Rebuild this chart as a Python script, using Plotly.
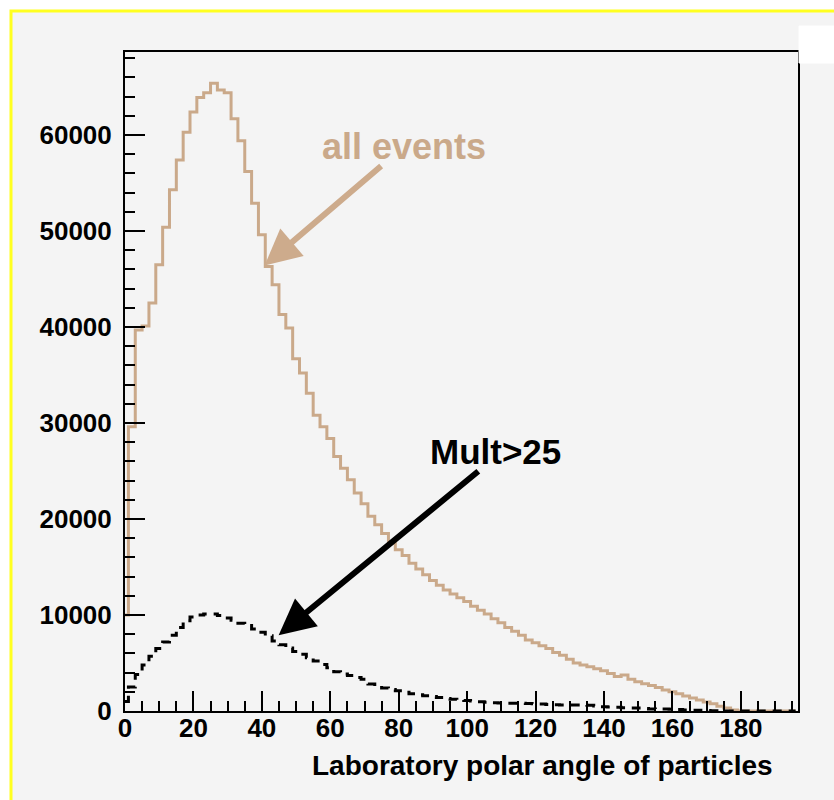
import plotly.graph_objects as go

# Bin centres (2-degree bins) of the laboratory polar angle
angle_bins = list(range(0, 198, 2))

# Histogram "all events"
all_events = [
    10000, 29600, 39700, 40100, 42500, 46500, 50400, 54300, 57400, 60300,
    62400, 63900, 64400, 65400, 64700, 64400, 61700, 59400, 56200, 52900,
    49600, 46300, 44400, 41300, 39900, 36700, 35200, 33100, 30800, 29600,
    28400, 26500, 25300, 24100, 22700, 21600, 20300, 19400, 18500, 17500,
    16800, 16200, 15400, 14800, 14200, 13600, 13100, 12600, 12200, 11800,
    11400, 10900, 10500, 10100, 9600, 9200, 8700, 8300, 7900, 7400,
    7100, 6800, 6500, 6100, 5800, 5400, 5000, 4800, 4600, 4400,
    4200, 3900, 3600, 3750, 3300, 3050, 2850, 2650, 2450, 2200,
    2000, 1800, 1550, 1350, 1150, 950, 750, 500, 300, 100,
    0, 0, 0, 0, 0, 0, 0, 0, 0,
]

# Histogram "Mult>25"
mult_gt25 = [
    1000, 2500, 3800, 4800, 5700, 6500, 7200, 7900, 8700, 9400,
    9800, 10000, 10100, 10100, 9950, 9700, 9450, 9150, 8900, 8550,
    8200, 7850, 7300, 6900, 6550, 6200, 5900, 5550, 5200, 4850,
    4500, 4100, 3850, 3700, 3500, 3300, 2800, 2600, 2400, 2250,
    2100, 1950, 1800, 1700, 1600, 1500, 1400, 1300, 1220, 1150,
    1100, 1040, 970, 920, 860, 830, 800, 800, 800, 790,
    760, 730, 680, 640, 625, 625, 625, 625, 610, 530,
    450, 420, 380, 350, 320, 300, 250, 210, 200, 200,
    190, 150, 110, 90, 70, 50, 30, 10,
    0, 0, 0, 0, 0, 0, 0, 0, 0, 0, 0,
]

x_tick_vals = [0, 20, 40, 60, 80, 100, 120, 140, 160, 180]
y_tick_vals = [0, 10000, 20000, 30000, 40000, 50000, 60000]

TAN = "#caa98a"
FONT = "Liberation Sans, Arial, sans-serif"

fig = go.Figure()
fig.add_trace(go.Scatter(
    x=angle_bins, y=all_events, mode="lines", line_shape="hvh",
    line=dict(color=TAN, width=3), name="all events", showlegend=False,
))
fig.add_trace(go.Scatter(
    x=angle_bins, y=mult_gt25, mode="lines", line_shape="hvh",
    line=dict(color="black", width=3, dash="9px,7px"), name="Mult>25", showlegend=False,
))

# Canvas background with yellow border
fig.add_shape(type="rect", xref="paper", yref="paper",
              x0=-0.1694, x1=1.2, y0=-0.3, y1=1.0622,
              fillcolor="#f4f4f4", line=dict(color="#ffff20", width=3), layer="below")
# Small stats box at the top right
fig.add_shape(type="rect", xref="paper", yref="paper",
              x0=1.0015, x1=1.1, y0=0.9833, y1=1.0394,
              fillcolor="#ffffff", line=dict(color="#ffffff", width=1), layer="above")

fig.update_layout(
    width=834, height=800,
    margin=dict(l=125, r=36, t=52, b=89),
    paper_bgcolor="white", plot_bgcolor="#f4f4f4",
    font=dict(family=FONT, color="black"),
    showlegend=False,
    xaxis=dict(
        range=[0, 196.7], tickvals=x_tick_vals, ticks="inside", ticklen=20,
        tickwidth=1.5, tickcolor="black",
        minor=dict(dtick=5, ticks="inside", ticklen=10, tickwidth=1.5, tickcolor="black"),
        showline=True, linecolor="black", linewidth=2, mirror=True,
        showgrid=False, zeroline=False,
        tickfont=dict(size=26, family=FONT, color="black", weight="bold"),
        ticklabelstandoff=-7,
    ),
    yaxis=dict(
        range=[0, 68650], tickvals=y_tick_vals, tickformat="d", ticks="inside", ticklen=20,
        tickwidth=1.5, tickcolor="black",
        minor=dict(dtick=2000, ticks="inside", ticklen=10, tickwidth=1.5, tickcolor="black"),
        showline=True, linecolor="black", linewidth=2, mirror=True,
        showgrid=False, zeroline=False,
        tickfont=dict(size=26, family=FONT, color="black", weight="bold"),
        ticklabelstandoff=6,
    ),
)

annotations = [
    # x-axis title, right aligned as in ROOT
    dict(text="Laboratory polar angle of particles", xref="paper", yref="paper",
         x=0.9655, y=-0.083, xanchor="right", yanchor="middle", showarrow=False,
         font=dict(size=28, family=FONT, color="black", weight="bold")),
    dict(text="all events", xref="x", yref="y", x=81.5, y=58850,
         xanchor="center", yanchor="middle", showarrow=False,
         font=dict(size=36, family=FONT, color=TAN, weight="bold")),
    dict(text="Mult>25", xref="x", yref="y", x=108.2, y=27080,
         xanchor="center", yanchor="middle", showarrow=False,
         font=dict(size=35, family=FONT, color="black", weight="bold")),
    # arrows
    dict(text="", xref="x", yref="y", x=40.8, y=46400, axref="x", ayref="y",
         ax=75.3, ay=56900, showarrow=True, arrowhead=2, arrowsize=1.2,
         arrowwidth=6, arrowcolor="#cdab8c", standoff=0, startstandoff=0),
    dict(text="", xref="x", yref="y", x=44.9, y=7900, axref="x", ayref="y",
         ax=103.7, ay=25100, showarrow=True, arrowhead=2, arrowsize=1.2,
         arrowwidth=6, arrowcolor="black", standoff=0, startstandoff=0),
]
fig.update_layout(annotations=annotations)

fig.write_html(
    "out.html",
    config={"displayModeBar": False},
    post_script="document.body.style.margin='0';document.body.style.padding='0';",
)
